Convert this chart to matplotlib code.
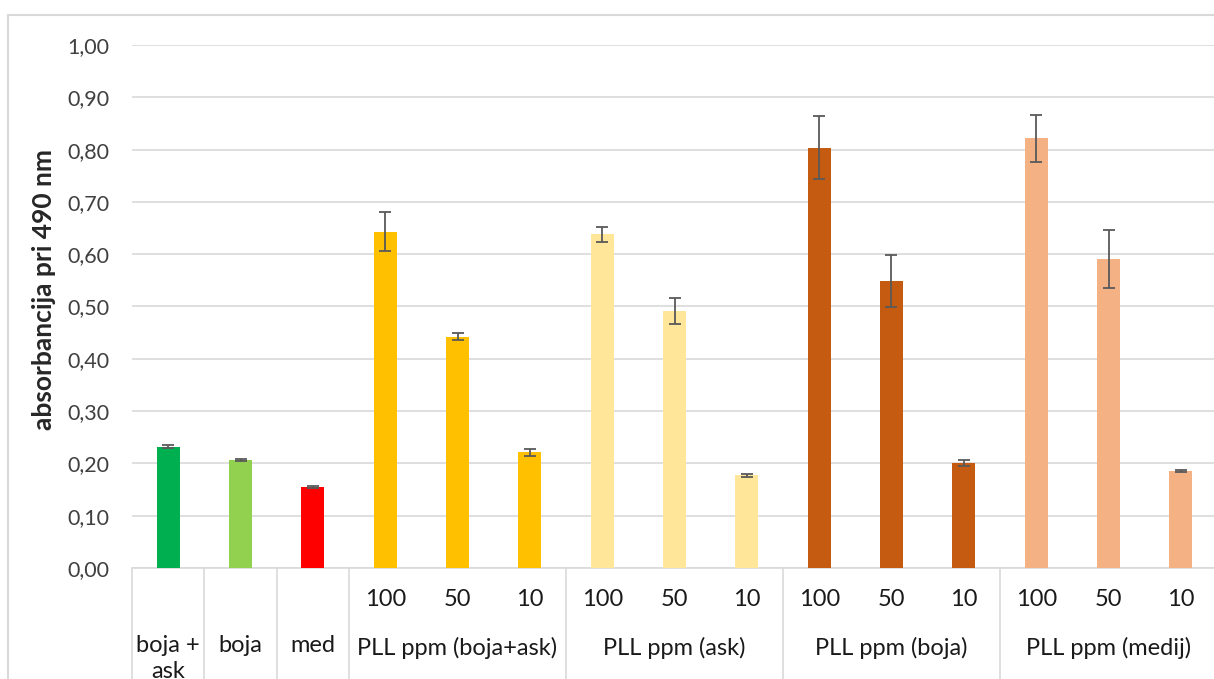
import numpy as np
import matplotlib
matplotlib.use("Agg")
import matplotlib.pyplot as plt
from matplotlib.patches import Rectangle
from matplotlib.ticker import FuncFormatter, MultipleLocator

plt.rcParams['font.family'] = ['Lato', 'DejaVu Sans']

# podaci
single_labels = ["boja +\nask", "boja", "med"]
conc_labels = ["100", "50", "10"]
group_labels = ["PLL ppm (boja+ask)", "PLL ppm (ask)", "PLL ppm (boja)", "PLL ppm (medij)"]

values = [0.232, 0.207, 0.155,
          0.643, 0.442, 0.221,
          0.638, 0.492, 0.177,
          0.804, 0.549, 0.201,
          0.822, 0.591, 0.186]
errors = [0.003, 0.002, 0.002,
          0.037, 0.007, 0.006,
          0.014, 0.025, 0.003,
          0.060, 0.050, 0.006,
          0.045, 0.055, 0.002]
colors = ["#00B050", "#92D050", "#FF0000",
          "#FFC000", "#FFC000", "#FFC000",
          "#FFE699", "#FFE699", "#FFE699",
          "#C55A11", "#C55A11", "#C55A11",
          "#F4B183", "#F4B183", "#F4B183"]

W, H = 1214, 679
fig = plt.figure(figsize=(W / 100, H / 100), dpi=100)
ax = fig.add_axes([132 / W, (H - 568) / H, 1085 / W, 523 / H])

x = np.arange(len(values))
ax.bar(x, values, width=0.32, color=colors, zorder=3)
ax.errorbar(x, values, yerr=errors, fmt='none', ecolor='#595959',
            elinewidth=1.3, capsize=4, capthick=1.3, zorder=4)

ax.set_xlim(-0.5, len(values) - 0.5)
ax.set_ylim(0, 1.0)
ax.yaxis.set_major_locator(MultipleLocator(0.1))
ax.yaxis.set_major_formatter(FuncFormatter(lambda v, p: f"{v:.2f}".replace('.', ',')))
ax.grid(axis='y', color='#d9d9d9', lw=1.2, zorder=0)
ax.tick_params(axis='y', length=0, pad=16.5, labelsize=15.5, labelcolor='#404040')
ax.set_xticks([])
for s in ['top', 'right', 'left']:
    ax.spines[s].set_visible(False)
ax.spines['bottom'].set_color('#d9d9d9')
ax.spines['bottom'].set_linewidth(1.2)

# kategorije na x osi
tr = ax.get_xaxis_transform()
row1 = -32 / 523
row2 = -80 / 523
txt_kw = dict(ha='center', fontsize=17, color='#1a1a1a', transform=tr, clip_on=False)
for i, lab in enumerate(single_labels):
    ax.text(x[i], row2 + 13 / 523, lab, va='top', linespacing=1.3, **txt_kw)
for g, glab in enumerate(group_labels):
    start = len(single_labels) + 3 * g
    for k, c in enumerate(conc_labels):
        ax.text(x[start + k], row1, c, va='center', **txt_kw)
    ax.text(x[start + 1], row2, glab, va='center', **txt_kw)

# separatori
bounds = [-0.5, 0.5, 1.5, 2.5] + [2.5 + 3 * (g + 1) for g in range(len(group_labels))]
ax.vlines(bounds, 0, -0.3, transform=tr, colors='#d9d9d9', lw=1.2, clip_on=False)

fig.text(44 / W, (H - 290) / H, "absorbancija pri 490 nm", rotation=90,
         ha='center', va='center', fontsize=19, fontweight='bold', color='#262626')

# okvir grafikona
fig.add_artist(Rectangle((8 / W, -0.1), 1.2, (H - 15) / H + 0.1,
                         transform=fig.transFigure, fill=False,
                         ec='#d9d9d9', lw=1.5))

fig.savefig("out.png", dpi=100)
